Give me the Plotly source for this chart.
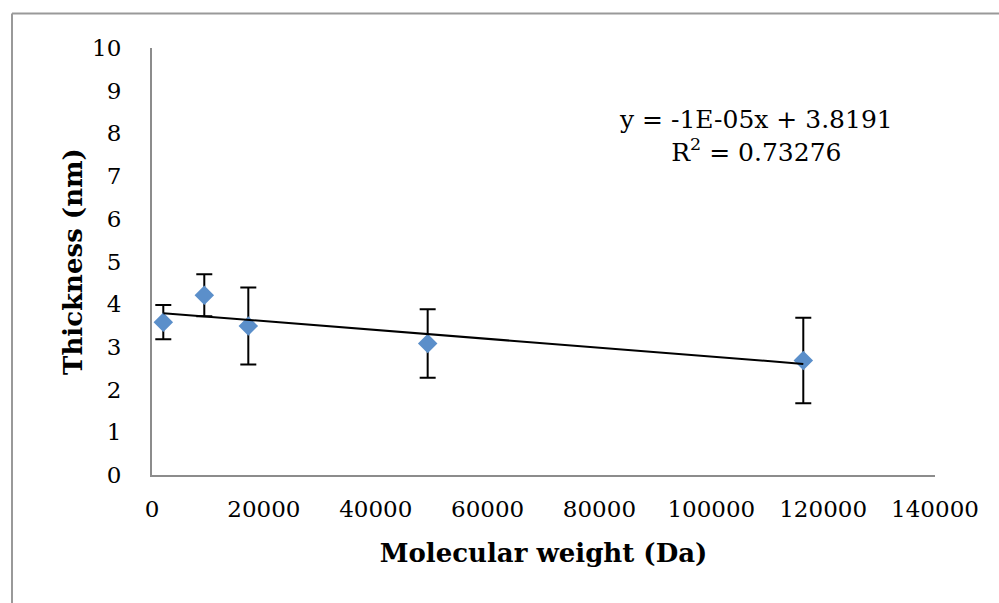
import numpy as np
import plotly.graph_objects as go

# Data
mol_weight = [2020, 9350, 17220, 49290, 116450]
thickness = [3.58, 4.21, 3.49, 3.08, 2.68]
thickness_err = [0.40, 0.49, 0.90, 0.80, 1.00]

x_ticks = [0, 20000, 40000, 60000, 80000, 100000, 120000, 140000]
y_ticks = [0, 1, 2, 3, 4, 5, 6, 7, 8, 9, 10]

eq_text = "y = -1E-05x + 3.8191"
r2_text = "R<sup>2</sup> = 0.73276"

# Linear trendline from data
slope, intercept = np.polyfit(mol_weight, thickness, 1)
trend_x = [min(mol_weight), max(mol_weight)]
trend_y = [slope * v + intercept for v in trend_x]

FONT = "DejaVu Serif"
AX_COLOR = "#8c8c8c"

fig = go.Figure()
fig.add_trace(go.Scatter(
    x=mol_weight, y=thickness, mode="markers",
    marker=dict(symbol="diamond", size=15, color="#5B8FCA", line=dict(width=0)),
    error_y=dict(type="data", array=thickness_err, symmetric=True,
                 color="black", thickness=2, width=8),
    showlegend=False, cliponaxis=False,
))
fig.add_trace(go.Scatter(
    x=trend_x, y=trend_y, mode="lines",
    line=dict(color="black", width=2), showlegend=False,
))

fig.update_layout(
    width=999, height=603,
    margin=dict(l=152, r=64, t=48, b=128),
    paper_bgcolor="white", plot_bgcolor="white",
    font=dict(family=FONT, color="black", size=23),
    xaxis=dict(
        range=[0, 140000], tickvals=x_ticks, ticktext=[str(v) for v in x_ticks],
        showgrid=False, zeroline=False, showline=True, linecolor=AX_COLOR, linewidth=2,
        ticks="", ticklabelstandoff=12, tickfont=dict(size=23),
        title=dict(text="<b>Molecular weight (Da)</b>", font=dict(size=26), standoff=23),
    ),
    yaxis=dict(
        range=[0, 10], tickvals=y_ticks, ticktext=[str(v) for v in y_ticks],
        showgrid=False, zeroline=False, showline=True, linecolor=AX_COLOR, linewidth=2,
        ticks="", ticklabelstandoff=24, tickfont=dict(size=23),
        title=dict(text="<b>Thickness (nm)</b>", font=dict(size=26), standoff=2),
    ),
    shapes=[
        dict(type="line", xref="paper", yref="paper", x0=-0.1788, x1=2, y0=1.0809, y1=1.0809,
             line=dict(color="#999999", width=2)),
        dict(type="line", xref="paper", yref="paper", x0=-0.1788, x1=-0.1788, y0=1.0809, y1=-0.6,
             line=dict(color="#999999", width=2)),
    ],
    annotations=[
        dict(xref="paper", yref="paper", x=(756 - 152) / 783, y=(474.5 - 136) / 426.5,
             text=eq_text + "<br>" + r2_text, showarrow=False, align="center",
             font=dict(size=25, family=FONT), xanchor="center", yanchor="middle"),
    ],
)

fig.write_html("out.html", post_script="document.body.style.margin='0';",
               config={"displayModeBar": False})
